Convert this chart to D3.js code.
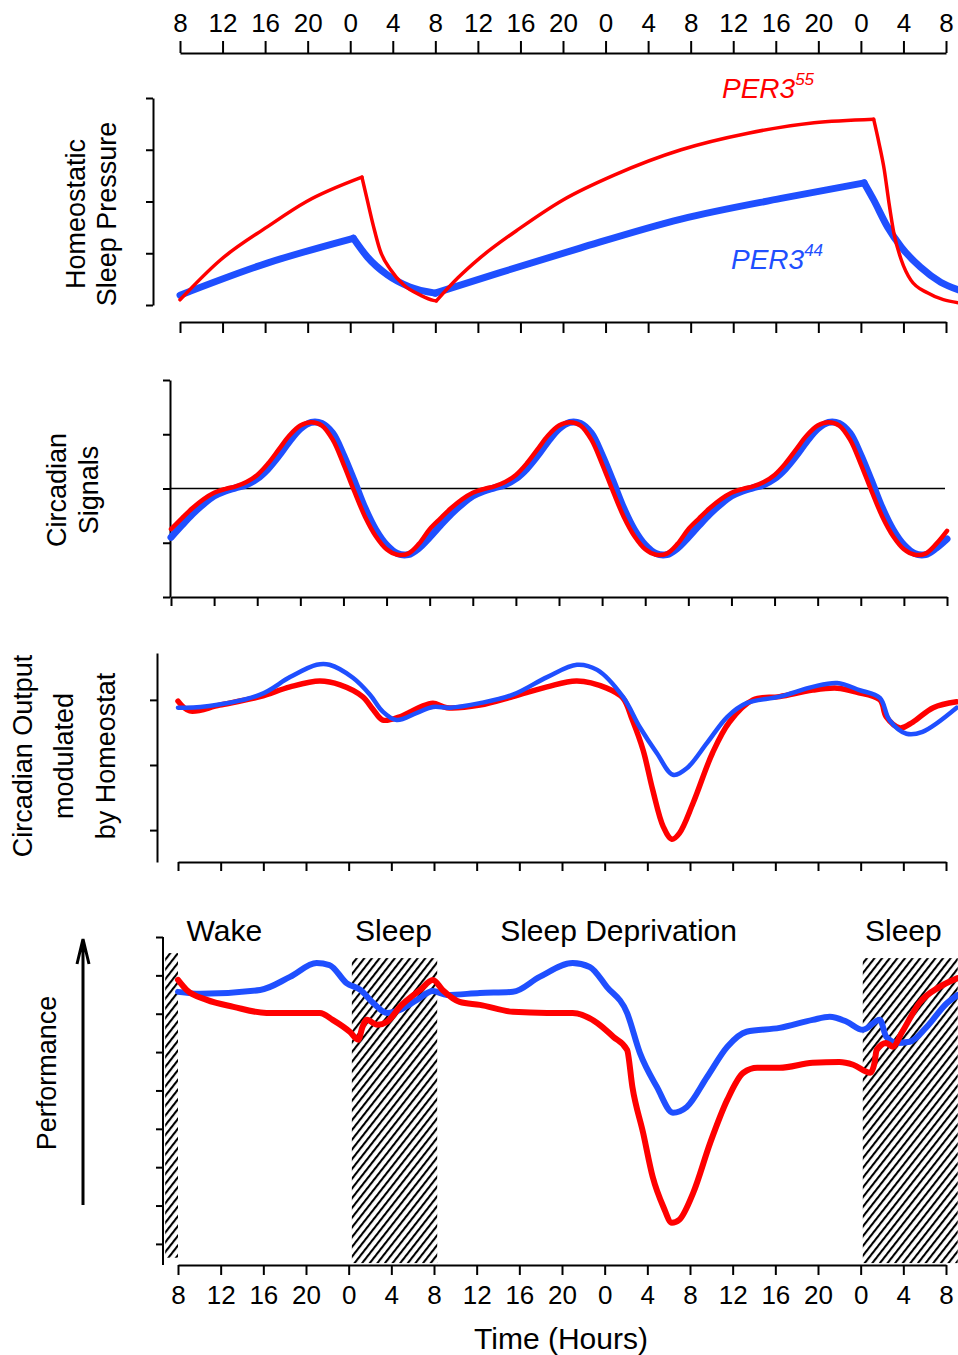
<!DOCTYPE html>
<html>
<head>
<meta charset="utf-8">
<script src="https://cdn.jsdelivr.net/npm/d3@7"></script>
<style>
  body { margin: 0; background: #fff; }
  svg { display: block; }
</style>
</head>
<body>
<div id="chart"></div>
<script>
// 時刻の目盛り（0 = 1日目の8時、72時間分）
const hourTicks = [0, 4, 8, 12, 16, 20, 24, 28, 32, 36, 40, 44, 48, 52, 56, 60, 64, 68, 72];
const hourLabels = ["8", "12", "16", "20", "0", "4", "8", "12", "16", "20", "0", "4", "8", "12", "16", "20", "0", "4", "8"];

// パネル1: Homeostatic Sleep Pressure
const homeoRedHours = [0, 3.8, 8.2, 11.9, 17.1, 17.6, 18.2, 18.8, 19.8, 21.0, 22.6, 23.8, 24.1, 26.1, 28.2, 32.0, 36.0, 40.8, 47.1, 53.4, 59.6, 65.2, 65.7, 66.2, 66.6, 67.1, 67.8, 68.7, 70.3, 73.2];
const homeoRedVals = [0.10, 0.87, 1.51, 2.00, 2.47, 2.03, 1.51, 1.06, 0.68, 0.39, 0.19, 0.09, 0.08, 0.52, 0.91, 1.49, 2.03, 2.51, 3.00, 3.32, 3.52, 3.59, 3.13, 2.61, 2.03, 1.39, 0.87, 0.48, 0.23, 0.04];
const homeoBlueHours = [0, 8.2, 16.3, 17.6, 19.5, 21.6, 24.0, 30.0, 37.6, 47.1, 56.5, 64.3, 65.2, 66.5, 67.8, 69.6, 71.5, 73.2];
const homeoBlueVals = [0.19, 0.81, 1.29, 0.93, 0.58, 0.35, 0.23, 0.62, 1.10, 1.66, 2.06, 2.36, 2.03, 1.51, 1.12, 0.73, 0.44, 0.29];

// パネル2: Circadian Signals（1時間ごと）
const circHours = [0, 1, 2, 3, 4, 5, 6, 7, 8, 9, 10, 11, 12, 13, 14, 15, 16, 17, 18, 19, 20, 21, 22, 23,
  24, 25, 26, 27, 28, 29, 30, 31, 32, 33, 34, 35, 36, 37, 38, 39, 40, 41, 42, 43, 44, 45, 46, 47,
  48, 49, 50, 51, 52, 53, 54, 55, 56, 57, 58, 59, 60, 61, 62, 63, 64, 65, 66, 67, 68, 69, 70, 71, 72];
const circRedVals = [-0.75, -0.55, -0.36, -0.20, -0.08, -0.01, 0.04, 0.12, 0.25, 0.46, 0.72, 0.98, 1.16, 1.22, 1.16, 0.90, 0.45, -0.05, -0.52, -0.88, -1.12, -1.22, -1.20, -1.02,
  -0.75, -0.55, -0.36, -0.20, -0.08, -0.01, 0.04, 0.12, 0.25, 0.46, 0.72, 0.98, 1.16, 1.22, 1.16, 0.90, 0.45, -0.05, -0.52, -0.88, -1.12, -1.22, -1.20, -1.02,
  -0.75, -0.55, -0.36, -0.20, -0.08, -0.01, 0.04, 0.12, 0.25, 0.46, 0.72, 0.98, 1.16, 1.22, 1.16, 0.90, 0.45, -0.05, -0.52, -0.88, -1.12, -1.22, -1.20, -1.02,
  -0.78];
const circBlueVals = [-0.90, -0.68, -0.47, -0.29, -0.14, -0.05, 0.01, 0.07, 0.18, 0.36, 0.60, 0.87, 1.10, 1.22, 1.20, 1.02, 0.62, 0.14, -0.36, -0.76, -1.04, -1.20, -1.22, -1.10,
  -0.90, -0.68, -0.47, -0.29, -0.14, -0.05, 0.01, 0.07, 0.18, 0.36, 0.60, 0.87, 1.10, 1.22, 1.20, 1.02, 0.62, 0.14, -0.36, -0.76, -1.04, -1.20, -1.22, -1.10,
  -0.90, -0.68, -0.47, -0.29, -0.14, -0.05, 0.01, 0.07, 0.18, 0.36, 0.60, 0.87, 1.10, 1.22, 1.20, 1.02, 0.62, 0.14, -0.36, -0.76, -1.04, -1.20, -1.22, -1.10,
  -0.93];

// パネル3: Circadian Output modulated by Homeostat
const outRedHours = [0, 1.1, 3.9, 7.7, 10.5, 13.3, 15.2, 17.3, 18.3, 19.2, 20.8, 22.7, 23.9, 25.2, 28.3, 31.4, 34.6, 37.4, 40.2, 41.7, 42.6, 43.6, 44.5, 45.5, 46.3, 47.0, 48.3, 50.1, 51.7, 53.9, 56.4, 59.5, 61.8, 63.6, 65.8, 66.4, 67.7, 68.9, 70.8, 73.0];
const outRedVals = [-0.02, -0.17, -0.08, 0.05, 0.20, 0.29, 0.23, 0.05, -0.15, -0.31, -0.26, -0.11, -0.05, -0.12, -0.08, 0.05, 0.20, 0.29, 0.18, 0.03, -0.31, -0.77, -1.38, -1.95, -2.14, -2.05, -1.58, -0.82, -0.34, 0.00, 0.05, 0.15, 0.18, 0.12, 0.00, -0.26, -0.43, -0.34, -0.12, -0.03];
const outBlueHours = [0, 2.1, 7.7, 10.5, 13.0, 14.2, 16.4, 18.0, 19.2, 20.5, 22.4, 23.9, 25.5, 28.3, 31.4, 34.6, 37.4, 39.3, 41.7, 43.3, 44.9, 46.4, 47.7, 49.6, 51.5, 53.3, 56.4, 59.5, 61.8, 63.9, 65.8, 66.7, 68.3, 69.8, 73.0];
const outBlueVals = [-0.12, -0.11, 0.08, 0.35, 0.54, 0.54, 0.34, 0.08, -0.18, -0.31, -0.20, -0.11, -0.12, -0.05, 0.08, 0.35, 0.54, 0.46, 0.05, -0.42, -0.82, -1.15, -1.05, -0.66, -0.26, -0.05, 0.05, 0.20, 0.26, 0.15, 0.03, -0.31, -0.52, -0.49, -0.12];

// パネル4: Performance
const perfRedHours = [0, 0.8, 2.7, 5.2, 8.3, 11.4, 13.3, 14.5, 16.1, 16.9, 17.3, 17.7, 18.7, 19.6, 20.8, 22.7, 23.9, 24.8, 26.4, 28.3, 31.4, 34.6, 37.0, 39.3, 40.8, 42.1, 42.6, 43.6, 44.5, 45.5, 46.3, 47.0, 48.3, 49.9, 51.5, 53.0, 54.3, 56.4, 59.5, 62.0, 63.3, 64.9, 65.3, 65.5, 66.4, 67.0, 67.9, 69.5, 71.4, 73.1];
const perfRedVals = [-1.12, -1.38, -1.64, -1.82, -1.98, -1.98, -1.98, -2.16, -2.47, -2.68, -2.34, -2.16, -2.29, -2.21, -1.82, -1.38, -1.12, -1.38, -1.69, -1.77, -1.95, -1.98, -1.98, -2.24, -2.60, -2.94, -3.91, -5.10, -6.25, -7.03, -7.45, -7.37, -6.67, -5.36, -4.24, -3.54, -3.41, -3.41, -3.28, -3.26, -3.33, -3.54, -3.28, -2.94, -2.76, -2.86, -2.47, -1.72, -1.30, -1.07];
const perfBlueHours = [0, 2.1, 7.7, 10.5, 13.0, 14.2, 15.8, 17.1, 18.3, 19.6, 20.8, 22.4, 23.9, 25.2, 28.3, 31.4, 33.9, 37.0, 38.6, 40.2, 42.1, 43.3, 44.9, 46.4, 47.7, 49.6, 51.5, 53.3, 56.4, 59.5, 61.1, 62.7, 64.2, 65.8, 66.4, 67.4, 68.6, 70.2, 72.1, 73.1];
const perfBlueVals = [-1.43, -1.48, -1.38, -1.04, -0.68, -0.73, -1.20, -1.38, -1.72, -1.98, -1.90, -1.64, -1.41, -1.51, -1.46, -1.43, -1.04, -0.68, -0.78, -1.30, -1.98, -3.02, -3.91, -4.58, -4.43, -3.65, -2.86, -2.47, -2.37, -2.16, -2.08, -2.21, -2.42, -2.16, -2.60, -2.76, -2.73, -2.34, -1.72, -1.51];

// 睡眠区間（ハッチング）
const sleepStart = [-1.2, 16.3, 64.2];
const sleepEnd = [0, 24.3, 73.1];
const phaseNames = ["Wake", "Sleep", "Sleep Deprivation", "Sleep"];
const phaseCenters = [4.35, 20.2, 41.3, 68.0];

const RED = "#ff0000";
const BLUE = "#1f4fff";
const NARROW = "'Liberation Sans Narrow', 'Arial Narrow', 'Liberation Sans', Arial, sans-serif";
const SANS = "'Liberation Sans', Arial, sans-serif";

function chart() {
  const width = 958;
  const height = 1355;

  const svg = d3.select("#chart")
    .append("svg")
    .attr("width", width)
    .attr("height", height);

  svg.append("rect").attr("width", width).attr("height", height).attr("fill", "#fff");

  // ハッチング用パターン
  svg.append("defs")
    .append("pattern")
    .attr("id", "hatch")
    .attr("patternUnits", "userSpaceOnUse")
    .attr("width", 6)
    .attr("height", 6)
    .attr("patternTransform", "rotate(38)")
    .append("rect")
    .attr("width", 2.1)
    .attr("height", 6)
    .attr("fill", "#000");

  function styleAxis(g) {
    g.attr("font-family", NARROW).attr("font-size", 26);
    g.selectAll("path, line").attr("stroke", "#000").attr("stroke-width", 2);
    g.selectAll("text").attr("fill", "#000");
  }

  function drawLine(g, x, y, hours, vals, color, w, curve) {
    const line = d3.line()
      .x((d, i) => x(hours[i]))
      .y(d => y(d))
      .curve(curve);
    g.append("path")
      .datum(vals)
      .attr("d", line)
      .attr("fill", "none")
      .attr("stroke", color)
      .attr("stroke-width", w)
      .attr("stroke-linejoin", "round")
      .attr("stroke-linecap", "round");
  }

  // 山と谷で区切って描く（ピークを尖らせるため）
  function drawSegments(g, x, y, hours, vals, color, w) {
    let start = 0;
    for (let i = 1; i < vals.length; i++) {
      const last = i === vals.length - 1;
      const turn = !last && (vals[i] - vals[i - 1]) * (vals[i + 1] - vals[i]) < 0;
      if (turn || last) {
        drawLine(g, x, y, hours.slice(start, i + 1), vals.slice(start, i + 1), color, w, d3.curveMonotoneX);
        start = i;
      }
    }
  }

  function yLabel(lines, xs, cy) {
    lines.forEach((t, i) => {
      svg.append("text")
        .attr("transform", `translate(${xs[i]},${cy}) rotate(-90)`)
        .attr("text-anchor", "middle")
        .attr("font-family", SANS)
        .attr("font-size", 27)
        .attr("fill", "#000")
        .text(t);
    });
  }

  // 上部の時刻軸
  const xTop = d3.scaleLinear().domain([0, 72]).range([180, 946]);
  svg.append("g")
    .attr("transform", "translate(0,53)")
    .call(d3.axisTop(xTop).tickValues(hourTicks).tickFormat((d, i) => hourLabels[i])
      .tickSize(12).tickSizeOuter(0).tickPadding(9))
    .call(styleAxis);

  // ---------- パネル1 ----------
  const x1 = d3.scaleLinear().domain([0, 72]).range([180, 946]);
  const y1 = d3.scaleLinear().domain([0, 4]).range([305, 98]);
  const p1 = svg.append("g");
  p1.append("g").attr("transform", "translate(153,0)")
    .call(d3.axisLeft(y1).ticks(4).tickFormat("").tickSize(7).tickSizeOuter(0))
    .call(styleAxis);
  p1.append("g").attr("transform", "translate(0,322)")
    .call(d3.axisBottom(x1).tickValues(hourTicks).tickFormat("").tickSize(11).tickSizeOuter(0))
    .call(styleAxis);
  drawSegments(p1, x1, y1, homeoBlueHours, homeoBlueVals, BLUE, 7);
  drawSegments(p1, x1, y1, homeoRedHours, homeoRedVals, RED, 3.5);

  // 凡例ラベル
  const per55 = p1.append("text").attr("x", 722).attr("y", 98)
    .attr("font-family", SANS).attr("font-style", "italic").attr("font-size", 28).attr("fill", RED);
  per55.append("tspan").text("PER3");
  per55.append("tspan").attr("font-size", 17).attr("dy", -13).text("55");
  const per44 = p1.append("text").attr("x", 731).attr("y", 269)
    .attr("font-family", SANS).attr("font-style", "italic").attr("font-size", 28).attr("fill", BLUE);
  per44.append("tspan").text("PER3");
  per44.append("tspan").attr("font-size", 17).attr("dy", -13).text("44");

  yLabel(["Homeostatic", "Sleep Pressure"], [85, 116], 214);

  // ---------- パネル2 ----------
  const x2 = d3.scaleLinear().domain([0, 72]).range([171, 947]);
  const y2 = d3.scaleLinear().domain([-2, 2]).range([597, 380]);
  const p2 = svg.append("g");
  p2.append("g").attr("transform", "translate(170,0)")
    .call(d3.axisLeft(y2).ticks(4).tickFormat("").tickSize(7).tickSizeOuter(0))
    .call(styleAxis);
  p2.append("g").attr("transform", "translate(0,597)")
    .call(d3.axisBottom(x2).tickValues(hourTicks).tickFormat("").tickSize(9).tickSizeOuter(0))
    .call(styleAxis);
  p2.append("line")
    .attr("x1", 170).attr("x2", x2(72) - 2)
    .attr("y1", y2(0)).attr("y2", y2(0))
    .attr("stroke", "#000").attr("stroke-width", 1.5);
  drawLine(p2, x2, y2, circHours, circBlueVals, BLUE, 7, d3.curveCatmullRom);
  drawLine(p2, x2, y2, circHours, circRedVals, RED, 4.5, d3.curveCatmullRom);

  yLabel(["Circadian", "Signals"], [66, 98], 490);

  // ---------- パネル3 ----------
  const x3 = d3.scaleLinear().domain([0, 72]).range([178, 946]);
  const y3 = d3.scaleLinear().domain([-2.49, 0.72]).range([862, 653]);
  const p3 = svg.append("g");
  p3.append("g").attr("transform", "translate(157,0)")
    .call(d3.axisLeft(y3).tickValues([0, -1, -2]).tickFormat("").tickSize(7).tickSizeOuter(0))
    .call(styleAxis);
  p3.append("g").attr("transform", "translate(0,862)")
    .call(d3.axisBottom(x3).tickValues(hourTicks).tickFormat("").tickSize(9).tickSizeOuter(0))
    .call(styleAxis);
  drawLine(p3, x3, y3, outRedHours, outRedVals, RED, 5.5, d3.curveCatmullRom);
  drawLine(p3, x3, y3, outBlueHours, outBlueVals, BLUE, 4.5, d3.curveCatmullRom);

  yLabel(["Circadian Output", "modulated", "by Homeostat"], [32, 73, 115], 756);

  // ---------- パネル4 ----------
  const x4 = d3.scaleLinear().domain([0, 72]).range([178, 946]);
  const y4 = d3.scaleLinear().domain([-8.55, 0]).range([1265, 937]);
  const p4 = svg.append("g");

  // 睡眠区間
  p4.selectAll("rect.sleep")
    .data(sleepStart)
    .enter()
    .append("rect")
    .attr("class", "sleep")
    .attr("x", (d, i) => x4(d))
    .attr("width", (d, i) => x4(sleepEnd[i]) - x4(d))
    .attr("y", (d, i) => i === 0 ? y4(-0.42) : y4(-0.55))
    .attr("height", (d, i) => i === 0 ? y4(-8.36) - y4(-0.42) : y4(-8.5) - y4(-0.55))
    .attr("fill", "url(#hatch)");

  p4.append("g").attr("transform", "translate(163,0)")
    .call(d3.axisLeft(y4).tickValues([0, -1, -2, -3, -4, -5, -6, -7, -8]).tickFormat("").tickSize(7).tickSizeOuter(0))
    .call(styleAxis);
  p4.select("g").select(".domain").attr("d", "M0," + y4(0) + "V1265");

  p4.append("g").attr("transform", "translate(0,1265)")
    .call(d3.axisBottom(x4).tickValues(hourTicks).tickFormat((d, i) => hourLabels[i])
      .tickSize(10).tickSizeOuter(0).tickPadding(11))
    .call(styleAxis);

  drawLine(p4, x4, y4, perfBlueHours, perfBlueVals, BLUE, 6, d3.curveMonotoneX);
  drawLine(p4, x4, y4, perfRedHours, perfRedVals, RED, 6, d3.curveMonotoneX);

  // 区間名
  p4.selectAll("text.phase")
    .data(phaseNames)
    .enter()
    .append("text")
    .attr("class", "phase")
    .attr("x", (d, i) => x4(phaseCenters[i]))
    .attr("y", 941)
    .attr("text-anchor", "middle")
    .attr("font-family", SANS)
    .attr("font-size", 30)
    .attr("fill", "#000")
    .text(d => d);

  // Performance の矢印
  svg.append("path")
    .attr("d", "M83,1205V940M77,964L83,939L89,964")
    .attr("fill", "none")
    .attr("stroke", "#000")
    .attr("stroke-width", 3);
  yLabel(["Performance"], [56], 1073);

  svg.append("text")
    .attr("x", 561)
    .attr("y", 1349)
    .attr("text-anchor", "middle")
    .attr("font-family", NARROW)
    .attr("font-size", 30)
    .attr("fill", "#000")
    .text("Time (Hours)");
}

chart();
</script>
</body>
</html>
